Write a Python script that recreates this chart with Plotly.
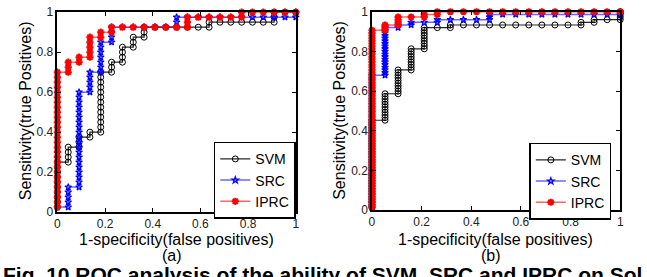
import plotly.graph_objects as go

# ---- data: true-positive count reached at each false-positive count (index) ----
# panel (a): 22 negatives, 40 positives
neg_a, pos_a = 22, 40
svm_a = [10, 13, 15, 16, 28, 30, 33, 35, 37, 37, 37, 37, 37, 37, 38, 38, 38, 38, 38, 38, 40, 40, 40]
src_a = [1, 5, 24, 28, 34, 37, 37, 37, 37, 37, 37, 39, 39, 39, 39, 39, 39, 39, 39, 39, 39, 39, 40]
iprc_a = [28, 30, 31, 35, 36, 37, 37, 37, 37, 37, 37, 37, 39, 39, 39, 39, 39, 40, 40, 40, 40, 40, 40]
# panel (b): 19 negatives, 75 positives
neg_b, pos_b = 19, 75
svm_b = [34, 44, 53, 61, 69, 69, 70, 70, 70, 70, 70, 70, 70, 70, 70, 70, 71, 72, 72, 75]
src_b = [51, 69, 70, 71, 71, 72, 72, 72, 72, 74, 74, 74, 74, 74, 74, 74, 74, 74, 74, 75]
iprc_b = [68, 70, 73, 73, 74, 75, 75, 75, 75, 75, 75, 75, 75, 75, 75, 75, 75, 75, 75, 75]

tick_vals = [0, 0.2, 0.4, 0.6, 0.8, 1]
tick_text = ["0", "0.2", "0.4", "0.6", "0.8", "1"]
names = ["SVM", "SRC", "IPRC"]
x_title = "1-specificity(false positives)"
y_title = "Sensitivity(true Positives)"
panel_labels = ["(a)", "(b)"]
caption = "Fig. 10 ROC analysis of the ability of SVM, SRC and IPRC on Sol"


def roc_points(tops, n_neg, n_pos, start=1):
    xs, ys = [0.0], [start / n_pos]
    prev = start
    for i, top in enumerate(tops):
        if i > 0:
            xs.append(i / n_neg)
            ys.append(prev / n_pos)
        for t in range(prev + 1, top + 1):
            xs.append(i / n_neg)
            ys.append(t / n_pos)
        prev = top
    return xs, ys


FONT = "Liberation Sans, Arial, sans-serif"
W, H = 647, 277
styles = {
    "SVM": dict(line=dict(color="rgba(0,0,0,0.85)", width=1.2),
                marker=dict(symbol="circle-open", size=6, color="black", line=dict(width=1))),
    "SRC": dict(line=dict(color="rgba(0,0,255,0.6)", width=1.5),
                marker=dict(symbol="star-open", size=5, color="blue", line=dict(width=1.2))),
    "IPRC": dict(line=dict(color="rgba(255,0,0,0.6)", width=1.5),
                 marker=dict(symbol="asterisk-open", size=6, color="red", line=dict(width=2, color="red"))),
}

fig = go.Figure()
panels = [
    (dict(SVM=svm_a, SRC=src_a, IPRC=iprc_a), neg_a, pos_a, "x", "y", "legend"),
    (dict(SVM=svm_b, SRC=src_b, IPRC=iprc_b), neg_b, pos_b, "x2", "y2", "legend2"),
]
for series, nn, npos, xa, ya, lg in panels:
    for nm in names:
        xs, ys = roc_points(series[nm], nn, npos)
        st = styles[nm]
        fig.add_trace(go.Scatter(x=xs, y=ys, mode="lines+markers", name=nm,
                                 line=st["line"], marker=st["marker"],
                                 xaxis=xa, yaxis=ya, legend=lg, cliponaxis=False))

axis_common = dict(range=[0, 1], tickvals=tick_vals, ticktext=tick_text, ticks="inside",
                   ticklen=4, tickcolor="black", showline=True, linecolor="black", linewidth=1.5,
                   mirror="ticks", showgrid=False, zeroline=False, ticklabeloverflow="allow",
                   tickfont=dict(family=FONT, size=12, color="#222"))


def px(xp):
    return xp / W


def py(yp):
    return 1 - yp / H


legend_common = dict(xanchor="right", yanchor="top", bordercolor="black", borderwidth=1.5,
                     bgcolor="white", font=dict(size=14, family=FONT), itemwidth=30,
                     tracegroupgap=0)

annotations = []
for cx, ytx in [(175, 23), (498, 340)]:
    annotations.append(dict(text=x_title, x=px(cx), y=py(244.5), xref="paper", yref="paper",
                            showarrow=False, font=dict(size=16, family=FONT),
                            xanchor="center", yanchor="middle"))
    annotations.append(dict(text=y_title, x=px(ytx), y=py(109), xref="paper", yref="paper",
                            showarrow=False, textangle=-90, font=dict(size=16, family=FONT),
                            xanchor="center", yanchor="middle"))
for lbl, cx in zip(panel_labels, [171, 493]):
    annotations.append(dict(text=lbl, x=px(cx), y=py(261.5), xref="paper", yref="paper",
                            showarrow=False, font=dict(size=16, family=FONT),
                            xanchor="center", yanchor="middle"))
annotations.append(dict(text="<b>" + caption + "</b>", x=px(-2), y=py(267), xref="paper",
                        yref="paper", showarrow=False, font=dict(size=21, family=FONT),
                        xanchor="left", yanchor="top"))

fig.update_layout(
    width=W, height=H, margin=dict(l=0, r=0, t=0, b=0),
    plot_bgcolor="white", paper_bgcolor="white",
    font=dict(family=FONT, color="black"),
    xaxis=dict(domain=[px(55), px(296)], anchor="y", **axis_common),
    yaxis=dict(domain=[py(216), py(5.5)], anchor="x", **axis_common),
    xaxis2=dict(domain=[px(373), px(624)], anchor="y2", **axis_common),
    yaxis2=dict(domain=[py(214), py(5)], anchor="x2", **axis_common),
    legend=dict(x=px(296), y=py(142), **legend_common),
    legend2=dict(x=px(615), y=py(143), **legend_common),
    annotations=annotations,
)

fig.write_html("out.html", config={"displayModeBar": False},
               post_script="document.body.style.margin='0';document.body.style.overflow='hidden';")
